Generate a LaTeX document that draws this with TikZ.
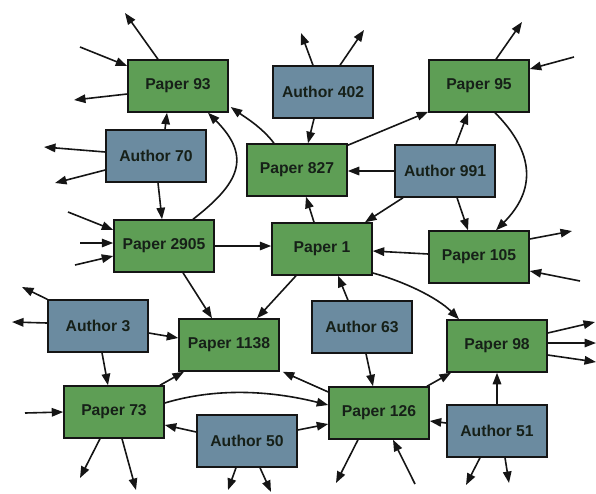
\documentclass[tikz,border=0pt]{standalone}
\usepackage{fontspec}
\setmainfont{Liberation Sans}
\usetikzlibrary{arrows.meta}
\definecolor{papergreen}{HTML}{5E9E55}
\definecolor{authorblue}{HTML}{6B8BA0}
\definecolor{edgeblack}{HTML}{151515}
\definecolor{txt}{HTML}{162018}
\tikzset{
  box/.style={draw=edgeblack, line width=1.5pt, minimum width=100pt, minimum height=52pt, inner sep=0pt,
    font=\fontsize{15.7}{18}\selectfont\bfseries, text=txt},
  paper/.style={box, fill=papergreen},
  author/.style={box, fill=authorblue},
  arr/.style={draw=edgeblack, line width=1.6pt, -{Triangle[length=11.5pt,width=8.5pt]}}
}
\begin{document}
\begin{tikzpicture}[x=1pt,y=-1pt]
\useasboundingbox (0,0) rectangle (596,493);
% nodes
\node[paper]  (p93)   at (178,86)  {Paper 93};
\node[author] (a70)   at (156,156) {Author 70};
\node[paper]  (p2905) at (164,246) {Paper 2905};
\node[paper]  (p827)  at (297,170) {Paper 827};
\node[author] (a402)  at (323,92)  {Author 402};
\node[paper]  (p95)   at (479,86)  {Paper 95};
\node[author] (a991)  at (445,171) {Author 991};
\node[paper]  (p1)    at (322,249) {Paper 1};
\node[paper]  (p105)  at (479,257) {Paper 105};
\node[author] (a3)    at (98,326)  {Author 3};
\node[paper]  (p1138) at (229,345) {Paper 1138};
\node[author] (a63)   at (362,327) {Author 63};
\node[paper]  (p98)   at (497,346) {Paper 98};
\node[paper]  (p73)   at (114,412) {Paper 73};
\node[paper]  (p126)  at (379,413) {Paper 126};
\node[author] (a50)   at (247,441) {Author 50};
\node[author] (a51)   at (497,431) {Author 51};
% free ends
\coordinate (f1) at (80,47);
\coordinate (f2) at (125,13);
\coordinate (f3) at (74,100);
\coordinate (f4) at (44,147);
\coordinate (f5) at (55,183);
\coordinate (f6) at (68,212);
\coordinate (f7) at (80,243);
\coordinate (f8) at (75,265);
\coordinate (f9) at (301,33);
\coordinate (f10) at (364,30);
\coordinate (f11) at (522,22);
\coordinate (f12) at (574,57);
\coordinate (f13) at (572,231);
\coordinate (f14) at (580,281);
\coordinate (f15) at (22,287);
\coordinate (f16) at (12,322);
\coordinate (f17) at (595,322);
\coordinate (f18) at (596,343);
\coordinate (f19) at (596,362);
\coordinate (f20) at (25,413);
\coordinate (f21) at (80,478);
\coordinate (f22) at (136,490);
\coordinate (f23) at (228,490);
\coordinate (f24) at (271,492);
\coordinate (f25) at (336,483);
\coordinate (f26) at (415,484);
\coordinate (f27) at (466,485);
\coordinate (f28) at (509,483);
% Paper 93
\draw[arr] (f1) -- ([yshift=20pt]p93.west);
\draw[arr] ([xshift=-20pt]p93.north) -- (f2);
\draw[arr] ([yshift=-8pt]p93.west) -- (f3);
\draw[arr] ([xshift=9pt]a70.north) -- ([xshift=-11pt]p93.south);
\draw[arr] ([xshift=29pt]p2905.north) .. controls +(45,-35) and +(45,45) .. ([xshift=30pt]p93.south);
\draw[arr] ([xshift=-23pt]p827.north) .. controls +(-12,-16) and +(14,10) .. ([xshift=2pt,yshift=-21pt]p93.east);
% Author 70
\draw[arr] ([yshift=4pt]a70.west) -- (f4);
\draw[arr] ([yshift=-14pt]a70.west) -- (f5);
\draw[arr] ([xshift=2pt]a70.south) -- ([xshift=-2pt]p2905.north);
% Paper 2905
\draw[arr] (f6) -- ([yshift=16pt]p2905.west);
\draw[arr] (f7) -- ([yshift=3pt]p2905.west);
\draw[arr] (f8) -- ([yshift=-10pt]p2905.west);
\draw[arr] (p2905.east) -- (p2905.east -| p1.west);
\draw[arr] ([xshift=19pt]p2905.south) -- ([xshift=-17pt]p1138.north);
% Author 402
\draw[arr] ([xshift=-10pt]a402.north) -- (f9);
\draw[arr] ([xshift=17pt]a402.north) -- (f10);
\draw[arr] ([xshift=-9pt]a402.south) -- ([xshift=11pt]p827.north);
% Paper 95
\draw[arr] ([xshift=17pt]p95.north) -- (f11);
\draw[arr] (f12) -- ([yshift=17pt]p95.east);
\draw[arr] ([yshift=-2pt]p827.north east) -- ([yshift=1pt]p95.south west);
\draw[arr] ([xshift=11pt]a991.north) -- ([xshift=-11pt]p95.south);
\draw[arr] ([xshift=16pt]p95.south) .. controls +(40,40) and +(40,-40) .. ([xshift=17pt]p105.north);
% Author 991
\draw[arr] (a991.west) -- (a991.west -| p827.east);
\draw[arr] ([xshift=-42pt]a991.south) -- ([xshift=43pt]p1.north);
\draw[arr] ([xshift=12pt]a991.south) -- ([xshift=-11pt]p105.north);
% Paper 105
\draw[arr] ([yshift=18pt]p105.east) -- (f13);
\draw[arr] (f14) -- ([yshift=-14pt]p105.east);
\draw[arr] ([yshift=3pt]p105.west) -- ([yshift=-2pt]p1.east);
% Paper 1
\draw[arr] ([xshift=-8pt]p1.north) -- ([xshift=9pt]p827.south);
\draw[arr] ([xshift=-26pt]p1.south) -- ([xshift=28pt]p1138.north);
\draw[arr] ([yshift=-24pt]p1.east) .. controls +(30,8) and +(-22,-22) .. ([xshift=-38pt]p98.north);
\draw[arr] ([xshift=-14pt]a63.north) -- ([xshift=16pt]p1.south);
% Author 3
\draw[arr] (a3.north west) -- (f15);
\draw[arr] ([yshift=3pt]a3.west) -- (f16);
\draw[arr] ([yshift=-7pt]a3.east) -- ([yshift=7pt]p1138.west);
\draw[arr] ([xshift=4pt]a3.south) -- ([xshift=-6pt]p73.north);
% Paper 1138
\draw[arr] ([xshift=46pt]p73.north) -- ([xshift=-45pt]p1138.south);
\draw[arr] ([yshift=21pt]p126.west) -- ([xshift=3pt]p1138.south east);
% Author 63
\draw[arr] ([xshift=4pt]a63.south) -- ([xshift=-6pt]p126.north);
% Paper 98
\draw[arr] ([yshift=13pt]p98.east) -- (f17);
\draw[arr] ([yshift=3pt]p98.east) -- (f18);
\draw[arr] ([yshift=-9pt]p98.east) -- (f19);
\draw[arr] ([xshift=48pt]p126.north) -- ([xshift=-46pt]p98.south);
\draw[arr] (a51.north) -- (p98.south);
% Paper 73
\draw[arr] (f20) -- (p73.west);
\draw[arr] ([xshift=-14pt]p73.south) -- (f21);
\draw[arr] ([xshift=8pt]p73.south) -- (f22);
\draw[arr] ([yshift=9pt]p73.east) .. controls +(50,-15) and +(-60,-15) .. ([yshift=8pt]p126.west);
% Author 50
\draw[arr] ([yshift=9pt]a50.west) -- ([yshift=-13pt]p73.east);
\draw[arr] ([yshift=11pt]a50.east) -- ([yshift=-11pt]p126.west);
\draw[arr] ([xshift=-11pt]a50.south) -- (f23);
\draw[arr] ([xshift=13pt]a50.south) -- (f24);
% Paper 126
\draw[arr] ([xshift=-21pt]p126.south) -- (f25);
\draw[arr] (f26) -- ([xshift=14pt]p126.south);
\draw[arr] ([yshift=8pt]a51.west) -- ([yshift=-8pt]p126.east);
% Author 51
\draw[arr] ([xshift=-17pt]a51.south) -- (f27);
\draw[arr] ([xshift=8pt]a51.south) -- (f28);
\end{tikzpicture}
\end{document}
